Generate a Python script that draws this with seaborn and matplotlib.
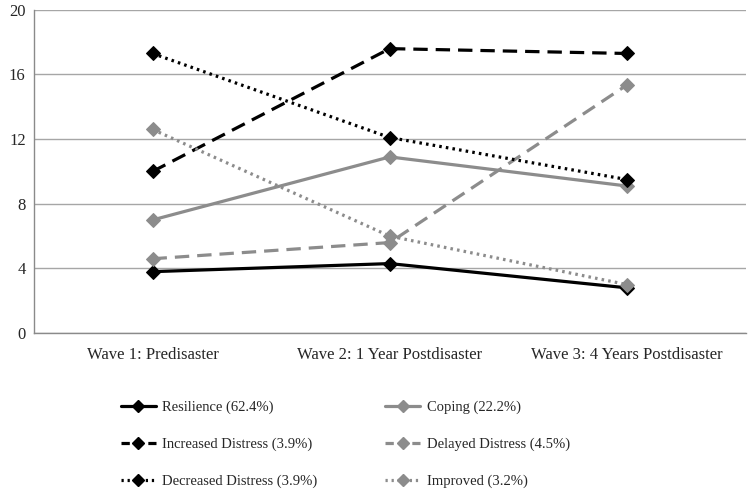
import matplotlib
matplotlib.use('Agg')
import matplotlib.pyplot as plt
from matplotlib.lines import Line2D
import seaborn as sns
import pandas as pd

waves = ['Wave 1: Predisaster', 'Wave 2: 1 Year Postdisaster', 'Wave 3: 4 Years Postdisaster']

resilience = [3.8, 4.3, 2.8]
coping = [7.0, 10.9, 9.1]
increased = [10.0, 17.6, 17.3]
delayed = [4.6, 5.6, 15.35]
decreased = [17.3, 12.1, 9.5]
improved = [12.6, 6.0, 3.0]

labels = ['Resilience (62.4%)', 'Coping (22.2%)', 'Increased Distress (3.9%)',
          'Delayed Distress (4.5%)', 'Decreased Distress (3.9%)', 'Improved (3.2%)']

sns.set_style('white')
plt.rcParams['font.family'] = ['Liberation Serif', 'DejaVu Serif']

black = '#000000'
gray = '#8c8c8c'
# name, values, colour, line style in plot, line style in legend
series = [
    (labels[0], resilience, black, '-', '-'),
    (labels[1], coping, gray, '-', '-'),
    (labels[2], increased, black, (0, (4.5, 2.5)), (0, (2.6, 1.6))),
    (labels[3], delayed, gray, (0, (4.5, 2.5)), (0, (2.6, 1.6))),
    (labels[4], decreased, black, (0, (0.8, 1.3)), (0, (0.7, 1.2))),
    (labels[5], improved, gray, (0, (0.8, 1.3)), (0, (0.7, 1.2))),
]

fig = plt.figure(figsize=(7.5, 4.92), dpi=100)
ax = fig.add_axes([0.0453, 0.323, 0.9487, 0.657])

handles = {}
for name, vals, col, ls, lls in series:
    df = pd.DataFrame({'wave': waves, 'value': vals})
    sns.lineplot(data=df, x='wave', y='value', ax=ax, color=col, linestyle=ls,
                 linewidth=2.3, marker='D', markersize=7.5, markeredgecolor=col,
                 sort=False)
    handles[name] = Line2D([], [], color=col, linestyle=lls, linewidth=2.3,
                           marker='D', markersize=6, markeredgecolor=col)

ax.set_xlim(-0.5, 2.5)
ax.set_ylim(0, 20)
ax.set_yticks([0, 4, 8, 12, 16, 20])
ax.yaxis.grid(True, color='#a6a6a6', linewidth=1)
ax.set_axisbelow(True)
ax.set_xlabel('')
ax.set_ylabel('')
for s in ['top', 'right']:
    ax.spines[s].set_visible(False)
for s in ['left', 'bottom']:
    ax.spines[s].set_color('#8a8a8a')
    ax.spines[s].set_linewidth(1)
ax.tick_params(axis='y', length=4, color='#8a8a8a', labelsize=12, pad=2)
ax.tick_params(axis='x', which='major', length=0, labelsize=12, pad=10)
ax.set_xticks([-0.5, 0.5, 1.5, 2.5], minor=True)
ax.tick_params(axis='x', which='minor', length=3, color='#8a8a8a')

order = [labels[0], labels[2], labels[4], labels[1], labels[3], labels[5]]
fig.legend([handles[n] for n in order], order, ncol=2, frameon=False,
           loc='upper left', bbox_to_anchor=(0.153, 0.197), fontsize=10.5,
           handlelength=2.4, handletextpad=0.45, columnspacing=4.65,
           labelspacing=1.6, borderaxespad=0)

fig.savefig('out.png', dpi=100)
